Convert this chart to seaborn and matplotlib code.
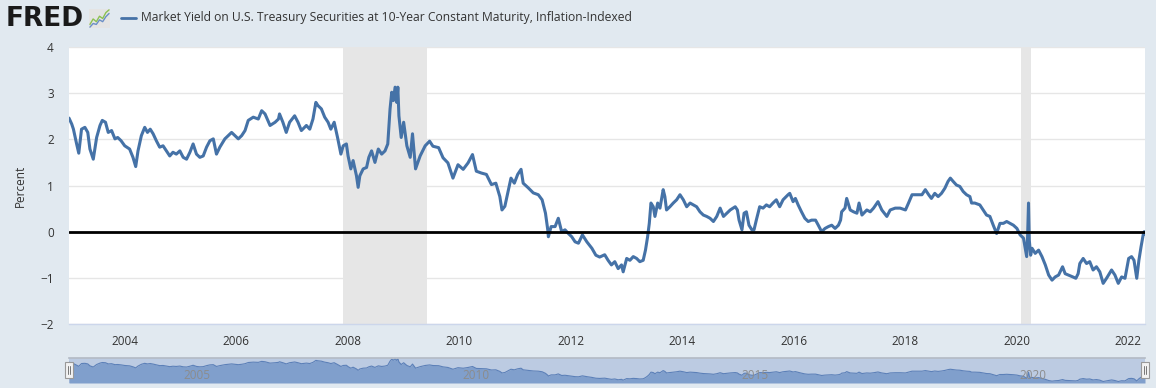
import pandas as pd
import matplotlib.pyplot as plt
import matplotlib.patches as mpatches
from matplotlib.lines import Line2D
import seaborn as sns

# 10-year TIPS yield (percent)
dates = [
    "2003-01-02", "2003-01-20", "2003-01-31", "2003-02-21", "2003-03-07", "2003-03-25", "2003-04-16", "2003-05-05",
    "2003-05-19", "2003-06-10", "2003-07-02", "2003-07-24", "2003-08-08", "2003-08-29", "2003-09-16", "2003-10-08",
    "2003-10-30", "2003-11-17", "2003-12-09",
    "2004-01-02", "2004-02-03", "2004-02-25", "2004-03-14", "2004-03-29", "2004-04-20", "2004-05-12", "2004-05-30",
    "2004-06-17", "2004-07-06", "2004-07-27", "2004-08-18", "2004-09-09", "2004-10-01", "2004-10-23", "2004-11-13",
    "2004-12-05", "2004-12-28",
    "2005-01-19", "2005-02-10", "2005-03-04", "2005-03-25", "2005-04-16", "2005-05-08", "2005-05-30", "2005-06-21",
    "2005-07-13", "2005-08-04", "2005-08-25", "2005-09-16", "2005-10-19", "2005-11-10", "2005-12-02", "2005-12-24",
    "2006-01-15", "2006-02-06", "2006-02-28", "2006-03-21", "2006-04-23", "2006-05-26", "2006-06-17", "2006-07-09",
    "2006-08-11", "2006-09-13", "2006-10-05", "2006-10-12", "2006-11-03", "2006-11-25", "2006-12-17",
    "2007-01-19", "2007-02-10", "2007-03-04", "2007-04-06", "2007-04-28", "2007-05-19", "2007-06-07", "2007-06-21",
    "2007-07-13", "2007-08-04", "2007-08-26", "2007-09-13", "2007-10-05", "2007-10-27", "2007-11-18", "2007-12-03",
    "2007-12-24",
    "2008-01-04", "2008-01-22", "2008-02-06", "2008-02-28", "2008-03-10", "2008-03-21", "2008-04-12", "2008-05-04",
    "2008-05-19", "2008-06-06", "2008-06-28", "2008-07-20", "2008-08-11", "2008-09-02", "2008-09-20", "2008-10-05",
    "2008-10-16", "2008-10-27", "2008-11-07", "2008-11-18", "2008-11-25", "2008-12-02", "2008-12-17",
    "2009-01-02", "2009-01-23", "2009-02-14", "2009-03-01", "2009-03-21", "2009-04-20", "2009-05-23", "2009-06-21",
    "2009-07-13", "2009-08-19", "2009-09-17", "2009-10-19", "2009-11-21", "2009-12-24",
    "2010-01-27", "2010-02-28", "2010-03-29", "2010-04-23", "2010-05-26", "2010-06-28", "2010-07-31", "2010-08-29",
    "2010-09-24", "2010-10-08", "2010-10-27", "2010-11-10", "2010-12-06", "2010-12-28",
    "2011-01-19", "2011-02-10", "2011-02-24", "2011-03-29", "2011-05-01", "2011-06-03", "2011-06-28", "2011-07-20",
    "2011-08-04", "2011-08-08", "2011-08-26", "2011-09-21", "2011-10-12", "2011-11-03", "2011-11-25", "2011-12-17",
    "2012-01-08", "2012-01-30", "2012-02-21", "2012-03-18", "2012-04-16", "2012-05-19", "2012-06-14", "2012-07-09",
    "2012-08-11", "2012-09-02", "2012-09-24", "2012-10-16", "2012-11-07", "2012-11-29", "2012-12-10",
    "2013-01-02", "2013-01-23", "2013-02-14", "2013-03-08", "2013-03-29", "2013-04-20", "2013-05-05", "2013-05-19",
    "2013-05-30", "2013-06-10", "2013-06-25", "2013-07-06", "2013-07-24", "2013-08-08", "2013-08-29", "2013-09-09",
    "2013-09-20", "2013-10-12", "2013-11-03", "2013-11-25", "2013-12-17",
    "2014-01-08", "2014-01-30", "2014-02-21", "2014-03-14", "2014-04-05", "2014-04-27", "2014-05-19", "2014-06-10",
    "2014-07-02", "2014-07-24", "2014-08-15", "2014-09-06", "2014-09-28", "2014-10-20", "2014-11-11", "2014-12-14",
    "2014-12-28",
    "2015-01-08", "2015-01-27", "2015-02-10", "2015-02-25", "2015-03-14", "2015-04-02", "2015-04-16", "2015-05-01",
    "2015-05-23", "2015-06-14", "2015-07-06", "2015-07-27", "2015-08-18", "2015-09-09", "2015-10-01", "2015-10-23",
    "2015-11-25", "2015-12-06", "2015-12-28",
    "2016-01-12", "2016-01-30", "2016-02-21", "2016-03-14", "2016-04-05", "2016-04-27", "2016-05-23", "2016-06-10",
    "2016-07-02", "2016-07-24", "2016-08-15", "2016-09-06", "2016-09-28", "2016-10-20", "2016-11-03", "2016-11-10",
    "2016-12-02", "2016-12-13",
    "2017-01-05", "2017-01-27", "2017-02-18", "2017-03-04", "2017-03-23", "2017-04-24", "2017-05-16", "2017-06-07",
    "2017-07-06", "2017-07-31", "2017-09-02", "2017-09-24", "2017-10-27", "2017-11-28",
    "2018-01-02", "2018-01-22", "2018-02-14", "2018-03-18", "2018-04-20", "2018-05-12", "2018-06-03", "2018-06-21",
    "2018-07-13", "2018-08-04", "2018-08-26", "2018-09-17", "2018-10-08", "2018-10-23", "2018-11-10", "2018-12-02",
    "2018-12-24",
    "2019-01-15", "2019-02-06", "2019-02-28", "2019-03-11", "2019-04-01", "2019-05-04", "2019-05-26", "2019-06-17",
    "2019-07-09", "2019-07-31", "2019-08-22", "2019-09-13", "2019-10-05", "2019-10-27", "2019-11-18", "2019-12-10",
    "2020-01-02", "2020-01-23", "2020-02-14", "2020-03-06", "2020-03-12", "2020-03-18", "2020-03-23", "2020-04-01",
    "2020-04-10", "2020-05-01", "2020-05-23", "2020-06-14", "2020-07-06", "2020-07-28", "2020-08-19", "2020-09-09",
    "2020-10-01", "2020-10-27", "2020-11-13", "2020-12-05",
    "2021-01-02", "2021-01-22", "2021-02-06", "2021-02-17", "2021-03-11", "2021-04-02", "2021-04-23", "2021-05-15",
    "2021-06-06", "2021-06-28", "2021-07-20", "2021-08-11", "2021-09-13", "2021-10-05", "2021-10-27", "2021-11-18",
    "2021-12-10",
    "2022-01-03", "2022-01-22", "2022-02-07", "2022-02-25", "2022-03-11", "2022-03-25", "2022-04-08", "2022-04-15",
    "2022-04-20",
]
values = [
    2.46, 2.33, 2.22, 1.90, 1.70, 2.22, 2.26, 2.15,
    1.79, 1.57, 2.04, 2.30, 2.41, 2.37, 2.15, 2.19,
    2.01, 2.04, 1.97,
    1.86, 1.79, 1.61, 1.41, 1.75, 2.08, 2.26, 2.15,
    2.22, 2.12, 1.97, 1.83, 1.86, 1.75, 1.64, 1.72,
    1.68, 1.75,
    1.61, 1.57, 1.72, 1.90, 1.68, 1.61, 1.64, 1.83,
    1.97, 2.01, 1.68, 1.83, 2.01, 2.08, 2.15, 2.08,
    2.01, 2.08, 2.19, 2.41, 2.48, 2.44, 2.62, 2.55,
    2.30, 2.37, 2.44, 2.55, 2.37, 2.15, 2.37,
    2.51, 2.37, 2.19, 2.30, 2.22, 2.44, 2.80, 2.73,
    2.66, 2.48, 2.37, 2.22, 2.37, 2.04, 1.68, 1.86,
    1.90,
    1.64, 1.36, 1.54, 1.21, 0.96, 1.21, 1.36, 1.39,
    1.61, 1.75, 1.50, 1.79, 1.68, 1.75, 1.90, 2.66,
    3.02, 2.84, 3.13, 2.80, 3.13, 2.51, 2.04,
    2.37, 1.86, 1.61, 2.12, 1.36, 1.64, 1.86, 1.96,
    1.85, 1.82, 1.60, 1.49, 1.16, 1.45,
    1.35, 1.49, 1.67, 1.31, 1.27, 1.24, 1.02, 1.05,
    0.76, 0.47, 0.55, 0.76, 1.16, 1.05,
    1.24, 1.35, 1.05, 0.95, 0.84, 0.80, 0.69, 0.40,
    0.04, -0.11, 0.11, 0.11, 0.29, 0.00, 0.04, -0.04,
    -0.11, -0.22, -0.25, -0.07, -0.22, -0.36, -0.51, -0.55,
    -0.50, -0.62, -0.72, -0.65, -0.80, -0.72, -0.87,
    -0.58, -0.62, -0.54, -0.58, -0.65, -0.62, -0.40, -0.11,
    0.18, 0.62, 0.54, 0.33, 0.62, 0.51, 0.91, 0.76,
    0.47, 0.54, 0.62, 0.69, 0.80,
    0.69, 0.54, 0.62, 0.58, 0.54, 0.43, 0.36, 0.33,
    0.29, 0.22, 0.33, 0.51, 0.33, 0.40, 0.47, 0.54,
    0.47,
    0.25, 0.04, 0.40, 0.43, 0.14, 0.04, 0.04, 0.25,
    0.54, 0.51, 0.58, 0.54, 0.62, 0.69, 0.54, 0.69,
    0.80, 0.83, 0.65,
    0.72, 0.58, 0.43, 0.29, 0.22, 0.25, 0.25, 0.14,
    0.00, 0.07, 0.11, 0.14, 0.07, 0.14, 0.25, 0.43,
    0.51, 0.72,
    0.47, 0.43, 0.40, 0.62, 0.36, 0.47, 0.43, 0.51,
    0.65, 0.47, 0.33, 0.47, 0.51, 0.51,
    0.47, 0.62, 0.80, 0.80, 0.80, 0.91, 0.80, 0.72,
    0.83, 0.76, 0.83, 0.94, 1.09, 1.16, 1.09, 1.01,
    0.98,
    0.87, 0.80, 0.76, 0.62, 0.62, 0.58, 0.47, 0.36,
    0.33, 0.14, -0.04, 0.18, 0.18, 0.22, 0.18, 0.14,
    0.07, -0.07, -0.14, -0.54, -0.11, 0.62, -0.18, -0.51,
    -0.36, -0.47, -0.40, -0.54, -0.72, -0.94, -1.05, -0.98,
    -0.94, -0.76, -0.91, -0.94,
    -0.98, -1.01, -0.91, -0.69, -0.58, -0.69, -0.65, -0.83,
    -0.76, -0.87, -1.12, -1.01, -0.83, -0.94, -1.12, -0.98,
    -1.01,
    -0.58, -0.54, -0.62, -1.01, -0.62, -0.33, -0.07, 0.00,
    -0.05,
]

recessions = [("2007-12-01", "2009-06-01"), ("2020-02-01", "2020-04-01")]
year_ticks = ["2004", "2006", "2008", "2010", "2012", "2014", "2016", "2018", "2020", "2022"]
nav_labels = ["2005", "2010", "2015", "2020"]
title = "Market Yield on U.S. Treasury Securities at 10-Year Constant Maturity, Inflation-Indexed"

# little FRED logo glyph
icon_x = [0, 1, 2, 3, 4, 5, 6]
icon_green = [1.0, 2.2, 1.6, 2.8, 2.3, 3.6, 4.2]
icon_blue = [0.4, 1.2, 1.0, 2.0, 1.6, 2.7, 3.4]

df = pd.DataFrame({"date": pd.to_datetime(dates), "value": values})

sns.set_theme(style="white")
plt.rcParams["font.family"] = ["Open Sans", "DejaVu Sans"]

W, H = 1156, 388
bg = "#e1e9f0"
txt = "#333333"
fig = plt.figure(figsize=(W / 100, H / 100), dpi=100, facecolor=bg)

# main plot
ax = fig.add_axes([69 / W, (H - 324) / H, (1145 - 69) / W, (324 - 47) / H])
ax.set_facecolor("white")
for start, end in recessions:
    ax.axvspan(pd.Timestamp(start), pd.Timestamp(end), color="#e6e6e6", lw=0, zorder=0)
sns.lineplot(data=df, x="date", y="value", ax=ax, color="#4572a7", linewidth=2.2, zorder=3)
ax.axhline(0, color="black", lw=2, zorder=4)

ax.set_ylim(-2, 4)
ax.set_yticks(range(-2, 5))
ax.set_xlim(pd.Timestamp("2003-01-02"), pd.Timestamp("2022-04-20"))
ax.set_xticks(pd.to_datetime(year_ticks))
ax.set_xticklabels(year_ticks)
ax.yaxis.grid(True, color="#e6e6e6", lw=1)
ax.xaxis.grid(False)
ax.set_axisbelow(True)
ax.set_xlabel("")
ax.set_ylabel("")
for s in ["top", "right", "left"]:
    ax.spines[s].set_visible(False)
ax.spines["bottom"].set_color("#ccd6eb")
ax.spines["bottom"].set_linewidth(1)
ax.tick_params(axis="y", length=0, pad=11, labelsize=8.5, labelcolor=txt)
ax.tick_params(axis="x", length=6, width=1, color="#ccd6eb", pad=2, labelsize=8.5, labelcolor=txt)

fig.text(20 / W, 1 - 186 / H, "Percent", rotation=90, ha="center", va="center", fontsize=8.5, color=txt)

# header
fig.text(6 / W, 1 - 19 / H, "FRED", fontsize=19, fontweight="heavy", color="#1a1a1a",
         ha="left", va="center", family=["DejaVu Sans"])
iax = fig.add_axes([89 / W, 1 - 28 / H, 21 / W, 19 / H])
iax.set_facecolor("#e4e4e4")
iax.plot(icon_x, icon_green, color="#8cc152", lw=1)
iax.plot(icon_x, icon_blue, color="#6b8fc6", lw=1)
iax.set_xticks([])
iax.set_yticks([])
for s in iax.spines.values():
    s.set_visible(False)
fig.add_artist(Line2D([121 / W, 136 / W], [1 - 18 / H] * 2, color="#4572a7", lw=2))
fig.text(141 / W, 1 - 18 / H, title, fontsize=8.7, color=txt, ha="left", va="center")

# navigator
nav = fig.add_axes([69 / W, (H - 383) / H, (1145 - 69) / W, (383 - 358) / H])
nav.set_facecolor("#bccbe2")
nav.fill_between(df["date"], df["value"], -1.4, color="#809fcc", lw=0)
sns.lineplot(data=df, x="date", y="value", ax=nav, color="#5c80b8", linewidth=0.8)
nav.set_ylim(-1.4, 3.25)
nav.set_xlim(ax.get_xlim())
nav.set_xticks([])
nav.set_yticks([])
nav.set_xlabel("")
nav.set_ylabel("")
for s in ["left", "right", "bottom"]:
    nav.spines[s].set_visible(False)
nav.spines["top"].set_color("#b5bcc6")
for lab in nav_labels:
    nav.text(pd.Timestamp(lab + "-01-01") + pd.Timedelta(days=20), 0.3, lab,
             transform=nav.get_xaxis_transform(), fontsize=8.5, color="#8c8c8c", ha="left", va="center",
             zorder=5)

# navigator handles
for hx in [65, 1141]:
    fig.add_artist(mpatches.Rectangle((hx / W, 1 - 378 / H), 8 / W, 16 / H, facecolor="#f2f2f2",
                                      edgecolor="#999999", lw=0.8, transform=fig.transFigure))
    for dx in [2.8, 5.2]:
        fig.add_artist(Line2D([(hx + dx) / W] * 2, [1 - 374 / H, 1 - 366 / H], color="#777777", lw=0.7))

plt.savefig("out.png", dpi=100, facecolor=bg)
